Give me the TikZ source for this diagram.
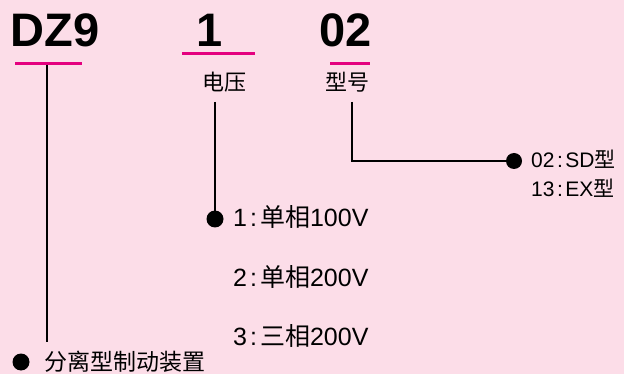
\documentclass[tikz,border=0pt]{standalone}
\usepackage{fontspec}
\setmainfont{Liberation Sans}
\newfontfamily\cjk{Noto Sans CJK SC}
\definecolor{bgpink}{HTML}{FCDDE8}
\definecolor{mag}{HTML}{E4007F}
\newcommand{\cln}[1]{\hspace{#1}:\hspace{#1}}
\begin{document}
\begin{tikzpicture}[x=1pt,y=-1pt,
  big/.style={font=\fontsize{47}{50}\selectfont\bfseries, inner sep=0pt, anchor=base},
  lab/.style={font=\fontsize{22}{26}\selectfont\cjk, inner sep=0pt},
  opt/.style={font=\fontsize{25}{30}\selectfont, inner sep=0pt, anchor=base west},
  optsm/.style={font=\fontsize{21}{26}\selectfont, inner sep=0pt, anchor=base west},
  uline/.style={draw=mag, line width=3pt},
  conn/.style={draw=black, line width=1.4pt},
  dot/.style={circle, fill=black, inner sep=0pt, minimum size=17pt}]
\fill[bgpink] (0,0) rectangle (624,374);
\useasboundingbox (0,0) rectangle (624,374);
% headings
\node[big] (dz9) at (55,47) {DZ9};
\node[big] (one) at (210,47) {1};
\node[big] (ozt) at (346,47) {02};
% underlines
\coordinate (u1a) at (15,64);  \coordinate (u1b) at (82,64);
\coordinate (u2a) at (182,54); \coordinate (u2b) at (255,54);
\coordinate (u3a) at (330,64); \coordinate (u3b) at (370,64);
\draw[uline] (u1a) -- (u1b);
\draw[uline] (u2a) -- (u2b);
\draw[uline] (u3a) -- (u3b);
% labels
\node[lab] (volt) at (224.5,82) {电压};
\node[lab] (type) at (347.5,82) {型号};
% dots
\node[dot] (d1) at (21,362) {};
\node[dot] (d2) at (215,219) {};
\node[dot, minimum size=16pt] (d3) at (514,161) {};
% connectors
\coordinate (c1) at (47,65);
\coordinate (c1e) at (47,342);
\draw[conn] (c1) -- (c1e);
\coordinate (c2) at (215,102);
\draw[conn] (c2) -- (d2.center);
\coordinate (c3) at (352,102);
\coordinate (c3b) at (352,161);
\draw[conn] (c3) -- (c3b) -- (d3.center);
% texts
\node[font=\fontsize{23}{26}\selectfont\cjk, inner sep=0pt, anchor=west] (brake) at (44,362) {分离型制动装置};
\node[opt] (o1) at (233,227) {1\cln{3pt}{\cjk 单相}100V};
\node[opt] (o2) at (233,286.5) {2\cln{3pt}{\cjk 单相}200V};
\node[opt] (o3) at (233,345.5) {3\cln{3pt}{\cjk 三相}200V};
\node[optsm] (t1) at (531,168) {02\cln{2.5pt}SD{\cjk 型}};
\node[optsm] (t2) at (531,197) {13\cln{2.5pt}EX{\cjk 型}};
\end{tikzpicture}
\end{document}
